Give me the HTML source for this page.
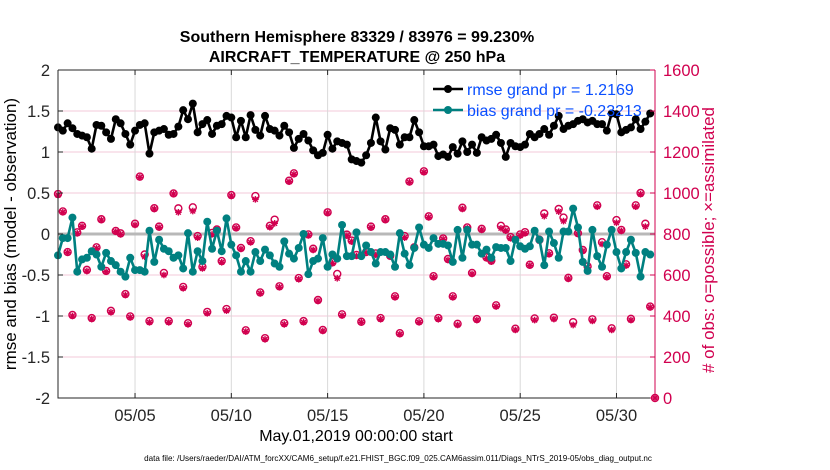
<!DOCTYPE html>
<html><head><meta charset="utf-8"><style>
body{margin:0;background:#fff;}
svg{display:block;font-family:"Liberation Sans",sans-serif;}
</style></head><body>
<svg id="chart" width="830" height="470" viewBox="0 0 830 470" xmlns="http://www.w3.org/2000/svg">
<rect width="830" height="470" fill="#fff"/>
<text x="357" y="42" text-anchor="middle" font-size="16" font-weight="bold">Southern Hemisphere 83329 / 83976 = 99.230%</text>
<text x="357" y="62" text-anchor="middle" font-size="16" font-weight="bold">AIRCRAFT_TEMPERATURE @ 250 hPa</text>
<g id="grid"></g>
<g id="marks"></g>
<g id="axes"></g>
<text x="356" y="441" text-anchor="middle" font-size="16">May.01,2019 00:00:00 start</text>
<text x="398" y="461" text-anchor="middle" font-size="8.1">data file: /Users/raeder/DAI/ATM_forcXX/CAM6_setup/f.e21.FHIST_BGC.f09_025.CAM6assim.011/Diags_NTrS_2019-05/obs_diag_output.nc</text>
<text transform="translate(16,234) rotate(-90)" text-anchor="middle" font-size="17">rmse and bias (model - observation)</text>
<text transform="translate(714,240) rotate(-90)" text-anchor="middle" font-size="17" fill="#d1004f"># of obs: o=possible; ×=assimilated</text>
<g>
<line x1="433" y1="89" x2="463" y2="89" stroke="#000" stroke-width="2.5"/><circle cx="448" cy="89" r="4" fill="#000"/>
<text x="467" y="95" font-size="16" fill="#0a4fff">rmse grand pr = 1.2169</text>
<line x1="433" y1="110" x2="463" y2="110" stroke="#008080" stroke-width="2.5"/><circle cx="448" cy="110" r="4" fill="#008080"/>
<text x="467" y="116" font-size="16" fill="#0a4fff">bias grand pr = -0.23213</text>
</g>
</svg>
<script>
const rmse=[1.30,1.26,1.35,1.29,1.22,1.20,1.18,1.04,1.33,1.32,1.24,1.16,1.40,1.35,1.22,1.09,1.26,1.33,1.35,0.98,1.24,1.26,1.28,1.21,1.22,1.31,1.51,1.40,1.59,1.24,1.34,1.39,1.22,1.32,1.34,1.44,1.42,1.18,1.38,1.18,1.45,1.27,1.20,1.44,
1.28,1.26,1.20,1.32,1.24,1.05,1.16,1.22,1.14,1.02,0.96,0.99,1.21,1.04,1.13,1.11,1.09,0.91,0.89,0.87,0.96,1.11,1.42,1.13,1.03,1.29,1.27,1.09,1.18,1.18,1.39,1.24,1.07,1.07,1.09,0.95,0.97,0.94,1.06,0.98,1.13,
1.00,1.09,0.99,1.18,1.14,1.16,1.21,1.11,0.94,1.11,1.07,1.06,1.09,1.22,1.18,1.22,1.28,1.21,1.32,1.44,1.28,1.32,1.34,1.38,1.40,1.36,1.38,1.34,1.34,1.26,1.47,1.46,1.24,1.27,1.30,1.40,1.28,1.37,1.47];
const bias=[-0.26,-0.05,-0.05,0.20,-0.46,-0.31,-0.29,-0.21,-0.25,-0.40,-0.23,-0.33,-0.38,-0.46,-0.52,-0.29,-0.44,-0.44,-0.46,0.04,-0.34,-0.07,-0.18,-0.21,-0.29,-0.26,-0.42,0.01,-0.46,-0.21,-0.33,0.15,-0.18,0.04,-0.21,0.19,-0.13,-0.26,-0.46,-0.33,-0.46,-0.22,-0.33,-0.19,
-0.26,-0.36,-0.40,-0.09,-0.24,-0.30,-0.17,0.00,-0.49,-0.33,-0.30,-0.05,-0.40,-0.25,-0.30,0.11,-0.27,-0.27,0.02,-0.27,-0.14,-0.22,-0.36,-0.22,-0.22,-0.25,-0.40,0.01,-0.24,-0.38,-0.17,0.08,-0.13,-0.17,-0.05,-0.12,-0.12,-0.14,-0.34,0.05,-0.29,
0.05,-0.13,-0.13,-0.24,-0.19,-0.29,-0.16,-0.17,-0.17,-0.33,-0.07,-0.15,-0.18,-0.15,0.04,-0.07,-0.38,0.03,-0.11,-0.29,0.03,0.03,0.31,0.08,-0.34,-0.45,0.05,-0.27,-0.40,-0.13,0.05,-0.22,-0.42,-0.22,-0.07,-0.23,-0.52,-0.22,-0.25];
const assimilated=[990,906,709,400,803,836,619,385,730,868,616,418,811,798,502,393,844,1076,689,369,922,831,600,369,995,906,535,359,912,782,632,413,798,816,662,426,985,828,727,324,759,969,510,286,
833,852,540,359,1055,1091,579,369,793,722,473,327,902,657,584,402,792,763,693,369,709,831,698,384,868,689,491,311,782,1052,730,369,1101,881,589,384,774,673,491,356,922,
828,605,380,820,681,665,446,828,816,779,332,792,803,646,380,766,887,701,385,909,863,581,356,800,717,637,376,933,751,589,332,855,815,646,380,933,994,836,442,0];
const possible=[995,910,712,405,808,840,625,390,735,872,620,425,815,803,507,398,850,1080,700,375,926,836,610,375,998,925,542,365,930,790,640,420,805,822,668,434,990,832,732,330,765,985,515,292,
840,870,545,365,1060,1096,585,375,798,728,478,332,906,662,605,408,797,768,698,372,712,836,705,390,872,694,496,316,790,1056,735,374,1106,886,594,390,778,678,496,362,928,
832,610,385,825,686,670,452,840,822,785,338,798,809,650,388,772,900,706,392,922,880,586,370,804,722,642,384,940,760,594,340,868,820,652,386,940,1000,850,446,0];
const yTicksL=[-2,-1.5,-1,-0.5,0,0.5,1,1.5,2];
const yTicksR=[0,200,400,600,800,1000,1200,1400,1600];
const xTickDays=[5,10,15,20,25,30];
const xTickLabels=["05/05","05/10","05/15","05/20","05/25","05/30"];

const X0=58,X1=655,Y0=70,Y1=398;
const DMIN=1,DMAX=32;
function xs(d){return X0+(d-DMIN)/(DMAX-DMIN)*(X1-X0);}
function yl(v){return Y1-(v+2)/4*(Y1-Y0);}
function yr(v){return Y1-v/1600*(Y1-Y0);}
const NS="http://www.w3.org/2000/svg";
function mk(tag,attrs,parent){const e=document.createElementNS(NS,tag);for(const k in attrs)e.setAttribute(k,attrs[k]);parent.appendChild(e);return e;}
const grid=document.getElementById('grid'),marks=document.getElementById('marks'),axes=document.getElementById('axes');
const MAG="#d1004f";
yTicksL.forEach(v=>{if(v===2||v===-2)return;const l=mk('line',{x1:X0,x2:X1,y1:yl(v),y2:yl(v),stroke:'#f3c8d8','stroke-width':1},grid);

});
xTickDays.forEach(d=>{const l=mk('line',{x1:xs(d),x2:xs(d),y1:Y0,y2:Y1,stroke:'#d9d9d9','stroke-width':1},grid);

});
const zl=mk('line',{x1:X0,x2:X1,y1:yl(0),y2:yl(0),stroke:'#b8b8b8','stroke-width':3},grid);


assimilated.forEach((v,i)=>{const d=DMIN+i*0.25,x=xs(d);
const g=mk('g',{},marks);


const y=yr(v),r=3.3;
mk('line',{x1:x-r,x2:x+r,y1:y,y2:y,stroke:MAG,'stroke-width':1.4},g);
mk('line',{x1:x,x2:x,y1:y-r,y2:y+r,stroke:MAG,'stroke-width':1.4},g);
mk('line',{x1:x-2.4,x2:x+2.4,y1:y-2.4,y2:y+2.4,stroke:MAG,'stroke-width':1.4},g);
mk('line',{x1:x-2.4,x2:x+2.4,y1:y+2.4,y2:y-2.4,stroke:MAG,'stroke-width':1.4},g);});
possible.forEach((v,i)=>{const d=DMIN+i*0.25;
const c=mk('circle',{cx:xs(d),cy:yr(v),r:3.5,fill:'none',stroke:MAG,'stroke-width':1.4},marks);

});
function series(arr,color,name){
const pts=arr.map((v,i)=>xs(DMIN+i*0.25)+','+yl(v)).join(' ');
const p=mk('polyline',{points:pts,fill:'none',stroke:color,'stroke-width':2.6,'stroke-linejoin':'round'},marks);


arr.forEach((v,i)=>{const c=mk('circle',{cx:xs(DMIN+i*0.25),cy:yl(v),r:4,fill:color},marks);

});}
series(bias,'#008080','bias');
series(rmse,'#000','rmse');
const fr=mk('path',{d:`M${X0},${Y0}H${X1}M${X0},${Y0}V${Y1}H${X1}`,fill:'none',stroke:'#262626','stroke-width':1},axes);


const ra=mk('line',{x1:X1,x2:X1,y1:Y0,y2:Y1,stroke:MAG,'stroke-width':1},axes);


yTicksL.forEach(v=>{mk('line',{x1:X0,x2:X0+5,y1:yl(v),y2:yl(v),stroke:'#262626'},axes);
const t=mk('text',{x:X0-8,y:yl(v)+6,'text-anchor':'end','font-size':16.5,fill:'#262626'},axes);t.textContent=String(v);

});
yTicksR.forEach(v=>{mk('line',{x1:X1-5,x2:X1,y1:yr(v),y2:yr(v),stroke:MAG},axes);
const t=mk('text',{x:X1+8,y:yr(v)+6,'font-size':16.5,fill:MAG},axes);t.textContent=String(v);

});
xTickDays.forEach((d,i)=>{mk('line',{x1:xs(d),x2:xs(d),y1:Y1,y2:Y1-5,stroke:'#262626'},axes);
mk('line',{x1:xs(d),x2:xs(d),y1:Y0,y2:Y0+5,stroke:'#262626'},axes);
const t=mk('text',{x:xs(d),y:Y1+23,'text-anchor':'middle','font-size':16.5,fill:'#262626'},axes);t.textContent=xTickLabels[i];

});
</script>
</body></html>
